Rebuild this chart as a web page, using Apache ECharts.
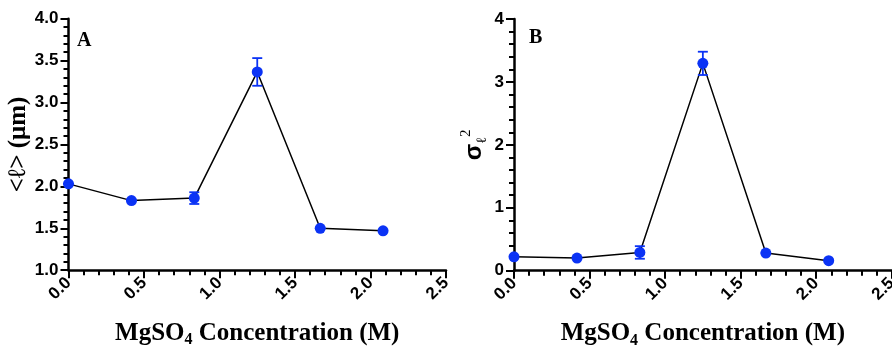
<!DOCTYPE html>
<html>
<head>
<meta charset="utf-8">
<script src="https://cdn.jsdelivr.net/npm/echarts@6/dist/echarts.min.js"></script>
<style>html,body{margin:0;padding:0;background:#fff}#c{width:892px;height:351px}</style>
</head>
<body>
<div id="c"></div>
<script>
var concentrations = [0, 0.417, 0.833, 1.25, 1.667, 2.083];
var meanLength = [2.03, 1.83, 1.86, 3.365, 1.50, 1.47];
var errLength = [0, 0, 0.07, 0.165, 0, 0];
var varLength = [0.22, 0.20, 0.29, 3.295, 0.28, 0.16];
var errVar = [0, 0, 0.10, 0.185, 0, 0];
var xTicks = [0, 0.5, 1.0, 1.5, 2.0, 2.5];
var yTicksA = [1.0, 1.5, 2.0, 2.5, 3.0, 3.5, 4.0];
var yTicksB = [0, 1, 2, 3, 4];

var BLUE = '#0b33f5';
function pairs(xs, ys) { return xs.map(function (x, i) { return [x, ys[i]]; }); }
function errData(xs, ys, es) { return xs.map(function (x, i) { return [x, ys[i] - es[i], ys[i] + es[i]]; }); }
function errRender(params, api) {
  var x = api.value(0), lo = api.value(1), hi = api.value(2);
  var pLo = api.coord([x, lo]), pHi = api.coord([x, hi]);
  var w = 5;
  var st = { stroke: BLUE, lineWidth: 1.8, fill: null };
  return { type: 'group', children: [
    { type: 'line', shape: { x1: pLo[0], y1: pLo[1], x2: pHi[0], y2: pHi[1] }, style: st },
    { type: 'line', shape: { x1: pLo[0] - w, y1: pLo[1], x2: pLo[0] + w, y2: pLo[1] }, style: st },
    { type: 'line', shape: { x1: pHi[0] - w, y1: pHi[1], x2: pHi[0] + w, y2: pHi[1] }, style: st }
  ]};
}

var labelFont = { fontFamily: 'Liberation Sans', fontWeight: 'bold', fontSize: 17, color: '#000' };
var nameRich = {
  a: { fontFamily: 'Liberation Serif', fontWeight: 'bold', fontSize: 25, lineHeight: 30, color: '#000' },
  b: { fontFamily: 'Liberation Serif', fontWeight: 'bold', fontSize: 16, lineHeight: 14, verticalAlign: 'bottom', color: '#000' }
};
function xAxisCfg(gi) {
  return {
    type: 'value', gridIndex: gi, min: 0, max: 2.5, interval: 0.5,
    name: '{a|MgSO}{b|4}{a| Concentration (M)}', nameLocation: 'middle', nameGap: 48,
    nameTextStyle: { rich: nameRich },
    axisLine: { show: true, onZero: false, lineStyle: { color: '#000', width: 2.5 } },
    axisTick: { show: true, length: 8, lineStyle: { color: '#000', width: 2 } },
    minorTick: { show: true, splitNumber: 5, length: 5, lineStyle: { color: '#000', width: 2 } },
    splitLine: { show: false },
    axisLabel: Object.assign({ rotate: 45, margin: 10, formatter: function (v) { return v.toFixed(1); } }, labelFont)
  };
}
function yAxisCfg(gi, min, max, interval, minorSplit, fmt, name, rich, gap) {
  return {
    type: 'value', gridIndex: gi, min: min, max: max, interval: interval,
    name: name, nameLocation: 'middle', nameGap: gap, nameRotate: 90,
    nameTextStyle: { rich: rich },
    axisLine: { show: true, onZero: false, lineStyle: { color: '#000', width: 2.5 } },
    axisTick: { show: true, length: 8, lineStyle: { color: '#000', width: 2 } },
    minorTick: { show: true, splitNumber: minorSplit, length: 5, lineStyle: { color: '#000', width: 2 } },
    splitLine: { show: false },
    axisLabel: Object.assign({ margin: 10, formatter: fmt }, labelFont)
  };
}

var chart = echarts.init(document.getElementById('c'));
chart.setOption({
  animation: false,
  title: [
    { text: 'A', left: 77, top: 31, padding: 0, textStyle: { fontFamily: 'Liberation Serif', fontWeight: 'bold', fontSize: 20, color: '#000' } },
    { text: 'B', left: 529, top: 28, padding: 0, textStyle: { fontFamily: 'Liberation Serif', fontWeight: 'bold', fontSize: 20, color: '#000' } }
  ],
  grid: [
    { left: 68.5, top: 18.7, width: 377.5, height: 251.5, containLabel: false, outerBoundsMode: 'none' },
    { left: 514, top: 19, width: 377.7, height: 251.7, containLabel: false, outerBoundsMode: 'none' }
  ],
  xAxis: [xAxisCfg(0), xAxisCfg(1)],
  yAxis: [
    yAxisCfg(0, 1, 4, 0.5, 5, function (v) { return v.toFixed(1); }, '{a|<ℓ> (μm)}',
      { a: { fontFamily: 'Liberation Serif', fontWeight: 'bold', fontSize: 25, lineHeight: 28, color: '#000' } }, 23),
    yAxisCfg(1, 0, 4, 1, 5, function (v) { return String(v); }, '{s|σ}{l|ℓ}{t|2}',
      {
        s: { fontFamily: 'Liberation Sans', fontWeight: 'bold', fontSize: 24, lineHeight: 30, color: '#000' },
        l: { fontFamily: 'Liberation Serif', fontSize: 14, lineHeight: 12, verticalAlign: 'bottom', color: '#000' },
        t: { fontFamily: 'Liberation Serif', fontSize: 15, lineHeight: 8, verticalAlign: 'top', color: '#000' }
      }, 25)
  ],
  series: [
    { type: 'custom', xAxisIndex: 0, yAxisIndex: 0, renderItem: errRender, data: errData(concentrations, meanLength, errLength), z: 3 },
    { type: 'line', xAxisIndex: 0, yAxisIndex: 0, data: pairs(concentrations, meanLength), symbol: 'circle', symbolSize: 11,
      lineStyle: { color: '#000', width: 1.5 }, itemStyle: { color: BLUE }, z: 2 },
    { type: 'custom', xAxisIndex: 1, yAxisIndex: 1, renderItem: errRender, data: errData(concentrations, varLength, errVar), z: 3 },
    { type: 'line', xAxisIndex: 1, yAxisIndex: 1, data: pairs(concentrations, varLength), symbol: 'circle', symbolSize: 11,
      lineStyle: { color: '#000', width: 1.5 }, itemStyle: { color: BLUE }, z: 2 }
  ]
});
</script>
</body>
</html>
